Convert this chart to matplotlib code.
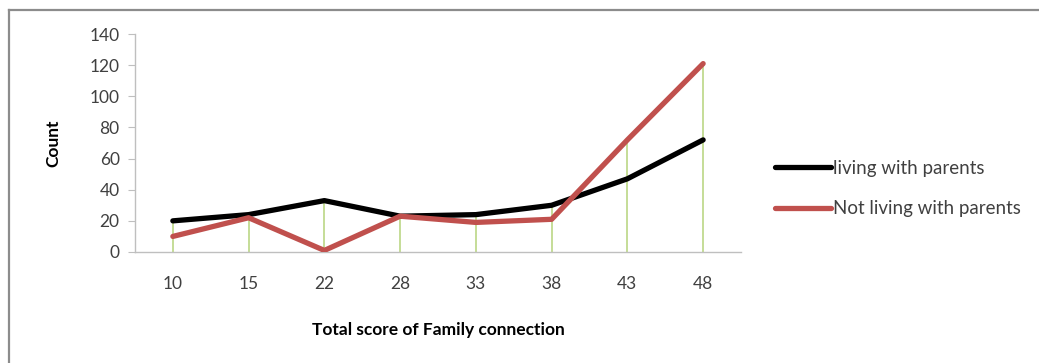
import numpy as np
import matplotlib.pyplot as plt
from matplotlib.lines import Line2D

plt.rcParams['font.family'] = ['Lato', 'DejaVu Sans']

# Family connection score groups and counts for each living arrangement
scores = ['10', '15', '22', '28', '33', '38', '43', '48']
with_parents = [20, 24, 33, 23, 24, 30, 47, 72]
without_parents = [10, 22, 1, 23, 19, 21, 72, 121]

fig = plt.figure(figsize=(10.39, 3.63), dpi=100)
ax = fig.add_axes([0.1299, 0.3058, 0.5833, 0.6005])

x = np.arange(len(scores))

# green drop lines from the higher of the two series down to zero
tops = np.maximum(with_parents, without_parents)
ax.vlines(x, 0, tops, color='#b5d37a', lw=1.1, zorder=1)

ax.plot(x, with_parents, color='black', lw=3.8, solid_capstyle='round',
        label='living with parents', zorder=3)
ax.plot(x, without_parents, color='#c0504d', lw=3.8, solid_capstyle='round',
        label='Not living with parents', zorder=4)

ax.set_xlim(-0.5, len(scores) - 0.5)
ax.set_ylim(0, 140)
ax.set_yticks(range(0, 141, 20))
ax.set_xticks(x)
ax.set_xticklabels(scores)

for s in ['top', 'right']:
    ax.spines[s].set_visible(False)
for s in ['left', 'bottom']:
    ax.spines[s].set_color('#bfbfbf')
    ax.spines[s].set_linewidth(1.0)
ax.tick_params(axis='y', length=5, color='#bfbfbf', labelsize=12.5,
               labelcolor='#404040', pad=6)
ax.tick_params(axis='x', length=0, labelsize=12.5, labelcolor='#404040', pad=17)

ax.set_xlabel('Total score of Family connection', fontsize=12.5,
              fontweight='bold', labelpad=22)
ax.set_ylabel('Count', fontsize=12.5, fontweight='bold', labelpad=20)

ax.legend(loc='center left', bbox_to_anchor=(1.028, 0.29), frameon=False,
          fontsize=13.5, handlelength=3.0, handletextpad=0.1,
          labelspacing=1.25, labelcolor='#404040')

# chart frame, left and top edges
fig.add_artist(Line2D([0.0084, 0.0084], [0, 0.972], color='#8c8c8c', lw=1.6))
fig.add_artist(Line2D([0.0084, 1.0], [0.972, 0.972], color='#8c8c8c', lw=1.6))

fig.savefig('out.png', dpi=100)
